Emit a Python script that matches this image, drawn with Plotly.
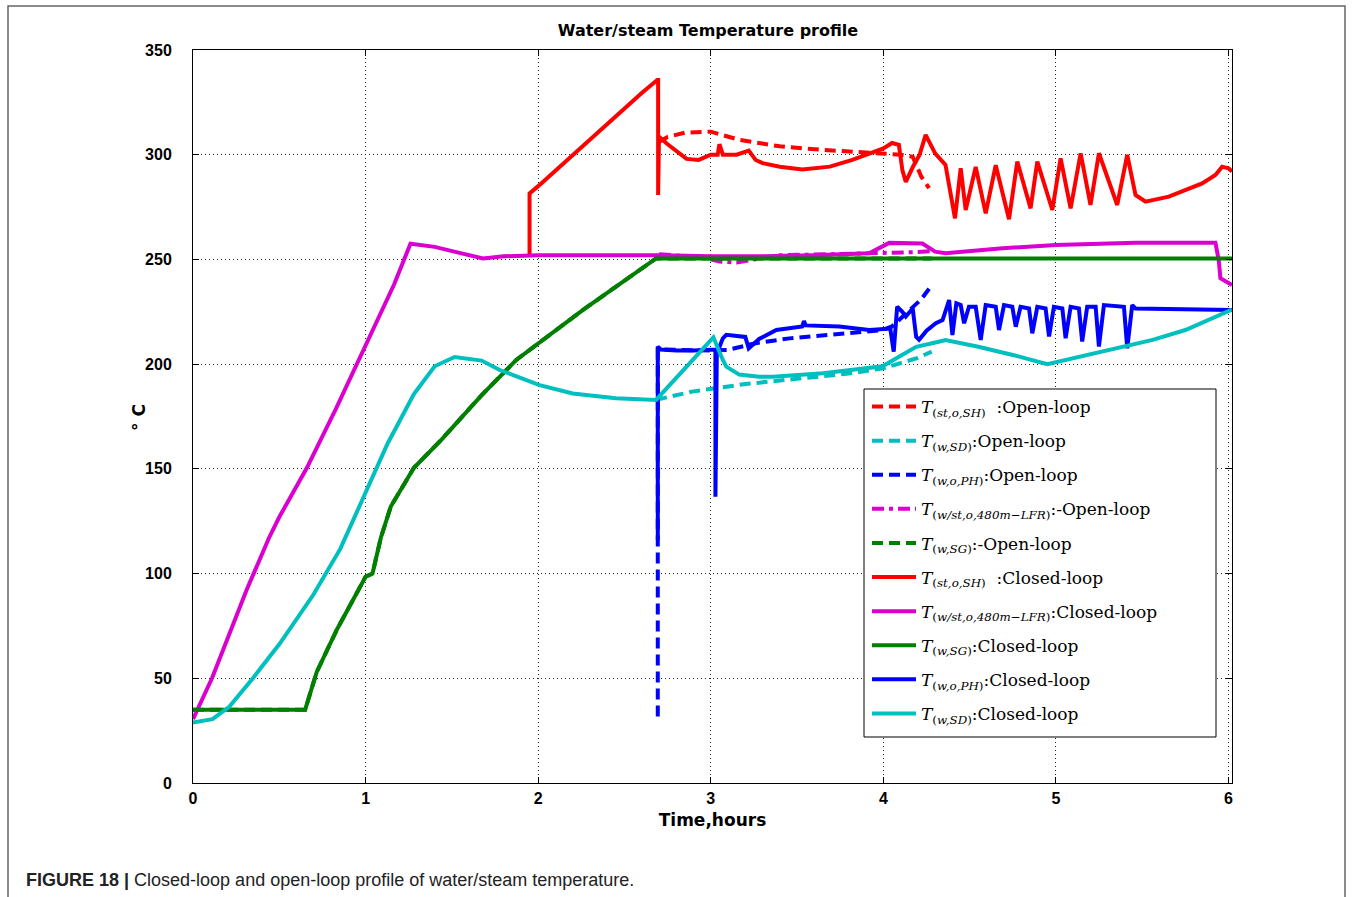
import plotly.graph_objects as go

# ---------------- data ----------------
# Closed-loop T(st,o,SH)  (red solid)
cl_sh_t = [1.95, 1.95, 2.0, 2.1, 2.2, 2.3, 2.4, 2.5, 2.6, 2.69, 2.695, 2.695, 2.70, 2.75, 2.80, 2.86, 2.93,
           3.0, 3.04, 3.05, 3.07, 3.15, 3.22, 3.26, 3.30, 3.40, 3.53, 3.69, 3.82, 3.92, 4.0, 4.05, 4.09,
           4.11, 4.13, 4.17, 4.21, 4.245, 4.30, 4.36, 4.415, 4.448, 4.477, 4.535, 4.593, 4.651, 4.728,
           4.776, 4.853, 4.892, 4.979, 5.027, 5.085, 5.143, 5.20, 5.249, 5.355, 5.413, 5.461, 5.519,
           5.654, 5.847, 5.924, 5.963, 6.0, 6.02]
cl_sh_v = [252, 281.5, 285, 292.5, 300, 307.5, 315, 322.5, 329.5, 335.7, 335.7, 280.8, 308.6, 305, 302, 298, 297.5,
           300, 300, 305, 300, 300, 302, 297.5, 296, 294.3, 293, 294.3, 297.5, 300.5, 303, 305.6, 304.7,
           292.7, 287, 294, 300, 309.5, 300.6, 295.1, 269.6, 293.5, 273.6, 294.2, 272, 295, 269.2,
           296.7, 274.4, 296.7, 273.6, 298.3, 274.4, 300.7, 276, 300.7, 276, 299.9, 280.8, 277.6,
           280, 286.3, 290.3, 294.3, 293.5, 292]

# Open-loop T(st,o,SH)  (red dashed)
ol_sh_t = [2.697, 2.75, 2.85, 3.0, 3.17, 3.40, 3.65, 3.94, 4.05, 4.10, 4.17, 4.22, 4.265]
ol_sh_v = [306, 308.5, 310.5, 311, 307, 304, 302.3, 301, 300.5, 300, 299, 289.5, 284]

# Closed-loop T(w/st,o,480m-LFR)  (magenta solid)
cl_lfr_t = [0, 0.11, 0.31, 0.44, 0.50, 0.66, 0.83, 1.0, 1.165, 1.26, 1.40, 1.55, 1.68, 1.8, 2.0, 2.4, 2.7,
            3.0, 3.3, 3.6, 3.918, 4.034, 4.226, 4.30, 4.36, 4.69, 5.0, 5.46, 5.924, 5.943, 5.953, 6.02]
cl_lfr_v = [30.5, 50, 92, 117, 127, 150.5, 179, 209, 238, 257.5, 256, 253, 250.5, 251.5, 252, 252, 252,
            251.5, 251.5, 252, 252.9, 257.9, 257.6, 253.7, 253, 255.3, 256.9, 258, 258, 249.7, 241, 237.8]

# Open-loop T(w/st,o,480m-LFR)  (magenta dash-dot)
ol_lfr_t = [2.7, 2.95, 3.05, 3.15, 3.25, 3.4, 3.7, 4.0, 4.2, 4.28]
ol_lfr_v = [252.5, 251, 249, 248.5, 250, 252, 252.5, 253, 253.5, 254]

# Closed-loop T(w,SG)  (green solid)
cl_sg_t = [0, 0.65, 0.717, 0.834, 1.0, 1.04, 1.088, 1.146, 1.28, 1.44, 1.67, 1.873, 2.26, 2.683, 6.02]
cl_sg_v = [35, 35, 53, 73.3, 98.5, 100, 117, 132, 150.5, 164, 185, 202, 225.9, 250.5, 250.5]

# Open-loop T(w,SG)  (green dashed)
ol_sg_t = [0, 0.65, 0.717, 0.834, 1.0, 1.04, 1.088, 1.146, 1.28, 1.44, 1.67, 1.873, 2.26, 2.683, 4.28]
ol_sg_v = [35, 35, 53, 73.3, 98.5, 100, 117, 132, 150.5, 164, 185, 202, 225.9, 250.5, 250.5]

# Closed-loop T(w,o,PH)  (blue solid)
cl_ph_t = [2.693, 2.693, 2.71, 2.8, 2.9, 3.0, 3.027, 3.027, 3.035, 3.07, 3.09, 3.2, 3.22, 3.28, 3.38, 3.53,
           3.54, 3.55, 3.745, 3.918, 4.01, 4.04, 4.06, 4.08, 4.11, 4.13, 4.17, 4.19, 4.207, 4.25, 4.304,
           4.343, 4.381, 4.40, 4.423, 4.448, 4.468, 4.496, 4.535, 4.564, 4.593, 4.651, 4.67, 4.699,
           4.747, 4.767, 4.795, 4.844, 4.863, 4.892, 4.94, 4.96, 4.988, 5.037, 5.056, 5.085, 5.133,
           5.152, 5.181, 5.23, 5.249, 5.278, 5.394, 5.413, 5.442, 5.461, 6.02]
cl_ph_v = [116, 208.4, 207, 206.5, 206.5, 207, 207, 136.7, 205, 212.3, 214, 213, 207.5, 212, 216.3, 218,
           220.6, 218.5, 218, 216.3, 217, 217, 206, 227.5, 225, 222.7, 226.6, 213, 211.6, 216, 219.5,
           221, 230.6, 213.9, 229, 228.2, 219.5, 227.4, 227.4, 211.6, 228.2, 227.4, 216.3, 228.2,
           227.4, 217.9, 227.4, 226.6, 214.7, 227.4, 226.6, 213.2, 227.4, 226.6, 212.4, 227.4, 226.6,
           210.8, 227.4, 227.4, 208.4, 228.2, 227.4, 207.6, 228.2, 226.6, 225.8]

# Open-loop T(w,o,PH)  (blue dashed)
ol_ph_t = [2.693, 2.693, 2.72, 2.9, 3.0, 3.1, 3.26, 3.455, 3.745, 3.995, 4.05, 4.11, 4.17, 4.22, 4.265]
ol_ph_v = [31.7, 207, 207, 206.5, 206.5, 206.8, 210, 212.3, 214.7, 216.3, 218, 222.7, 227, 231, 236]

# Closed-loop T(w,SD)  (cyan solid)
cl_sd_t = [0, 0.113, 0.21, 0.347, 0.503, 0.698, 0.854, 1.0, 1.127, 1.28, 1.4, 1.516, 1.672, 1.777, 2.008,
           2.2, 2.45, 2.683, 3.015, 3.07, 3.09, 3.165, 3.28, 3.36, 3.65, 3.995, 4.19, 4.32, 4.36, 4.55,
           4.75, 4.95, 5.27, 5.56, 5.75, 6.02]
cl_sd_v = [28.9, 30.5, 36.4, 50, 66.6, 90, 111.9, 138.8, 162, 185.7, 199, 203.4, 201.7, 197.2, 190,
           186, 183.7, 182.9, 212.8, 202, 198.8, 195, 194, 194, 195.6, 199, 208.3, 210.7, 211.5, 208.3,
           204.4, 200, 206, 211.6, 216.3, 226]

# Open-loop T(w,SD)  (cyan dashed)
ol_sd_t = [2.683, 2.9, 3.2, 3.5, 3.8, 4.0, 4.2, 4.28]
ol_sd_v = [183, 187, 190.5, 193, 195.5, 198, 203, 206]

x_ticks = [0, 1, 2, 3, 4, 5, 6]
y_ticks = [0, 50, 100, 150, 200, 250, 300, 350]

RED, CYAN, BLUE, MAG, GREEN = "#FF0000", "#00BFBF", "#0000FF", "#D900D0", "#007F00"
DASH = "11px,6px"
DASHDOT = "12px,5px,4px,5px"


def lab(sub, tail):
    return "<i>T</i><sub>(<i>" + sub + "</i>)</sub>" + tail


series = [
    (ol_sh_t, ol_sh_v, RED, DASH, lab("st,o,SH", "  :Open-loop")),
    (ol_sd_t, ol_sd_v, CYAN, DASH, lab("w,SD", ":Open-loop")),
    (ol_ph_t, ol_ph_v, BLUE, DASH, lab("w,o,PH", ":Open-loop")),
    (ol_lfr_t, ol_lfr_v, MAG, DASHDOT, lab("w/st,o,480m−LFR", ":-Open-loop")),
    (ol_sg_t, ol_sg_v, GREEN, DASH, lab("w,SG", ":-Open-loop")),
    (cl_sh_t, cl_sh_v, RED, "solid", lab("st,o,SH", "  :Closed-loop")),
    (cl_lfr_t, cl_lfr_v, MAG, "solid", lab("w/st,o,480m−LFR", ":Closed-loop")),
    (cl_sg_t, cl_sg_v, GREEN, "solid", lab("w,SG", ":Closed-loop")),
    (cl_ph_t, cl_ph_v, BLUE, "solid", lab("w,o,PH", ":Closed-loop")),
    (cl_sd_t, cl_sd_v, CYAN, "solid", lab("w,SD", ":Closed-loop")),
]

fig = go.Figure()
for i, (t, v, c, d, name) in enumerate(series):
    fig.add_trace(go.Scatter(x=t, y=v, mode="lines", name=name, legendgroup=str(i),
                             line=dict(color=c, width=4, dash=d)))

W, H = 1356, 897
L, R, T, B = 193, 1232, 50, 783
pw, ph = R - L, B - T


def px(xp):
    return (xp - L) / pw


def py(yp):
    return (B - yp) / ph


axis_common = dict(showline=True, linecolor="black", linewidth=1, mirror="ticks",
                   ticks="inside", ticklen=6, tickcolor="black",
                   showgrid=True, gridcolor="#222", griddash="1px,3px", gridwidth=1,
                   zeroline=False,
                   tickfont=dict(family="Liberation Sans, Arial", size=16, color="black", weight="bold"))

BOLD = "DejaVu Sans, Liberation Sans, Arial"

fig.update_layout(
    width=W, height=H,
    margin=dict(l=L, r=W - R, t=T, b=H - B),
    paper_bgcolor="white", plot_bgcolor="white",
    title=dict(text="<b>Water/steam Temperature profile</b>", x=708 / W,
               xanchor="center", y=1 - 30 / H, yanchor="middle", yref="container",
               font=dict(family=BOLD, size=16, color="black")),
    xaxis=dict(range=[0, 6.02], tickvals=x_ticks, ticklabelstandoff=1,
               title=dict(text="<b>Time,hours</b>", standoff=7,
                          font=dict(family=BOLD, size=17, color="black")),
               **axis_common),
    yaxis=dict(range=[0, 350], tickvals=y_ticks, ticklabelstandoff=17, **axis_common),
    showlegend=True,
    legend=dict(x=px(867), y=py(389), xanchor="left", yanchor="top",
                bgcolor="rgba(0,0,0,0)", borderwidth=0,
                font=dict(family="DejaVu Serif, Liberation Serif, serif", size=17, color="black"),
                tracegroupgap=9, traceorder="grouped", itemwidth=44),
    annotations=[
        dict(text="<b>° C</b>", textangle=-90, xref="paper", yref="paper", x=px(139), y=py(418),
             xanchor="center", yanchor="middle",
             showarrow=False, font=dict(family=BOLD, size=17, color="black")),
        dict(text="<b>FIGURE 18 |</b> Closed-loop and open-loop profile of water/steam temperature.",
             xref="paper", yref="paper", x=px(24), y=py(880), xanchor="left", yanchor="middle",
             showarrow=False,
             font=dict(family="Liberation Sans Narrow, Liberation Sans, Arial", size=18, color="#222")),
    ],
    shapes=[
        dict(type="rect", xref="paper", yref="paper", x0=px(8), x1=px(1345), y0=py(905), y1=py(6),
             line=dict(color="#666", width=1.5), fillcolor="rgba(0,0,0,0)", layer="below"),
        dict(type="rect", xref="paper", yref="paper", x0=px(864), x1=px(1216), y0=py(737), y1=py(389),
             line=dict(color="black", width=1), fillcolor="white", layer="above"),
    ],
)

fig.write_html("out.html", config={"displayModeBar": False},
               post_script="document.body.style.margin='0px';")
